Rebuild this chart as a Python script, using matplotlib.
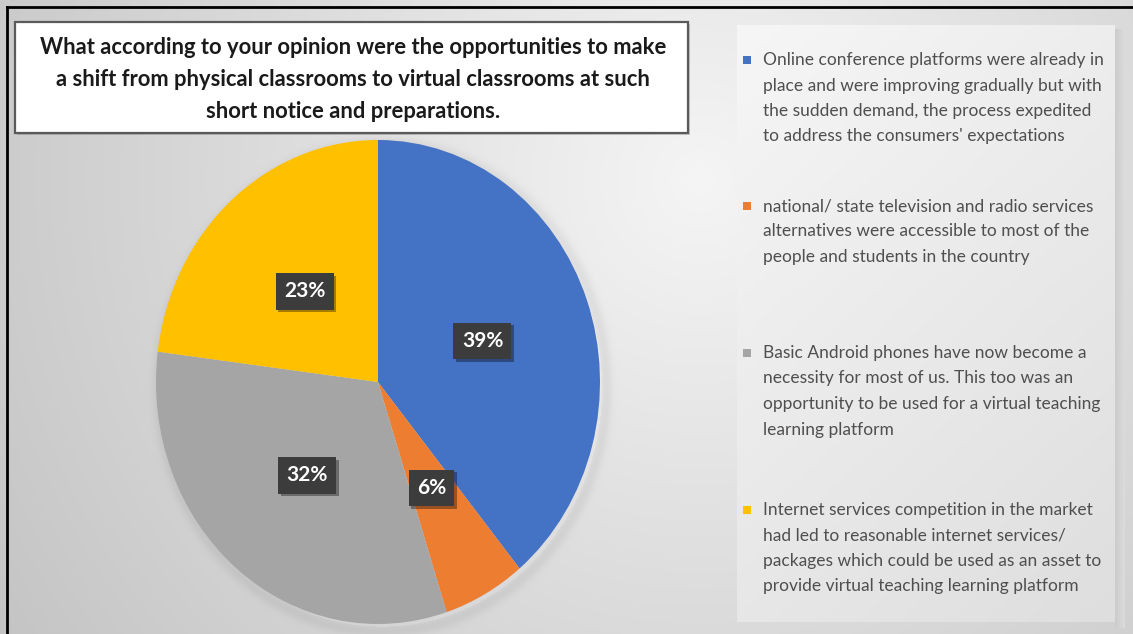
import numpy as np
import matplotlib
matplotlib.use("Agg")
import matplotlib.pyplot as plt
from matplotlib.patches import Rectangle
import matplotlib.patheffects as pe

W, H = 1133, 634

title_lines = [
    "What according to your opinion were the opportunities to make",
    "a shift from physical classrooms to virtual classrooms at such",
    "short notice and preparations.",
]
shares = [39, 6, 32, 23]
colors = ["#4472C4", "#ED7D31", "#A5A5A5", "#FFC000"]
categories = [
    "Online conference platforms were already in\nplace and were improving gradually but with\n"
    "the sudden demand, the process expedited\nto address the consumers' expectations",
    "national/ state television and radio services\nalternatives were accessible to most of the\n"
    "people and students in the country",
    "Basic Android phones have now become a\nnecessity for most of us. This too was an\n"
    "opportunity to be used for a virtual teaching\nlearning platform",
    "Internet services competition in the market\nhad led to reasonable internet services/\n"
    "packages which could be used as an asset to\nprovide virtual teaching learning platform",
]
legend_top = [60, 206, 353, 510]   # first line of each legend entry (px from top)

plt.rcParams['font.family'] = ['Lato', 'DejaVu Sans']


def fx(x):
    return x / W


def fy(y):
    return 1 - y / H


fig = plt.figure(figsize=(W / 100, H / 100), dpi=100)

# slide background: soft radial grey gradient with a faint shadow under the pie
yy, xx = np.mgrid[0:H, 0:W]
d = np.hypot(xx - 700, yy - 180)
bg = 0.96 - 0.16 * np.clip(d / 700, 0, 1.25)
rr = np.hypot((xx - 382) / 224, (yy - 387) / 244)
bg -= 0.05 * np.exp(-((rr - 1.0) * 35) ** 2) * (rr > 0.98)
bg = np.clip(bg, 0, 1)
bax = fig.add_axes([0, 0, 1, 1])
bax.imshow(np.dstack([bg] * 3), extent=(0, W, H, 0), aspect='auto', interpolation='bilinear')
bax.set_xlim(0, W)
bax.set_ylim(H, 0)
bax.axis('off')

# page frame on the left and top
bax.plot([7, 7], [7, H], color='black', lw=2)
bax.plot([7, W], [7, 7], color='black', lw=2)

# legend panel with its own light gradient and a shaded right edge
px0, py0, px1, py1 = 737, 25, 1115, 622
gy, gx = np.mgrid[0:py1 - py0, 0:px1 - px0]
pg = 0.965 - 0.035 * (gx / (px1 - px0)) - 0.06 * (gy / (py1 - py0))
bax.imshow(np.dstack([pg] * 3), extent=(px0, px1, py1, py0), aspect='auto')
sh = np.linspace(0.80, 0.86, 10)[None, :].repeat(py1 - py0 + 6, axis=0)
bax.imshow(np.dstack([sh] * 3), extent=(px1, px1 + 10, py1 + 6, py0 + 4), aspect='auto')
bax.set_xlim(0, W)
bax.set_ylim(H, 0)

# pie (slide is stretched vertically, so the pie is an ellipse)
cx, cy, ra, rb = 378, 382, 222, 242
pax = fig.add_axes([fx(cx - ra), fy(cy + rb), 2 * ra / W, 2 * rb / H])
wedges, texts, autotexts = pax.pie(
    shares, colors=colors, startangle=90, counterclock=False,
    autopct='%d%%', pctdistance=0.5,
    wedgeprops=dict(linewidth=0),
    textprops=dict(color='white', fontsize=15, fontweight='bold'))
pax.set_aspect('auto')
pax.set_xlim(-1, 1)
pax.set_ylim(-1, 1)
pax.axis('off')
for t in autotexts:
    t.set_bbox(dict(boxstyle='square,pad=0.4', fc='#3c3c3c', ec='none'))
    t.get_bbox_patch().set_path_effects(
        [pe.SimplePatchShadow(offset=(2, -2), shadow_rgbFace='black', alpha=0.35), pe.Normal()])

# title box
tax = fig.add_axes([0, 0, 1, 1])
tax.set_xlim(0, W)
tax.set_ylim(H, 0)
tax.axis('off')
tax.add_patch(Rectangle((15, 22), 673, 111, fc='white', ec='#5a5a5a', lw=1.6,
                        path_effects=[pe.SimplePatchShadow(offset=(1.5, -1.5), alpha=0.25), pe.Normal()]))
for i, line in enumerate(title_lines):
    tax.text(353, 54 + i * 32, line, ha='center', va='baseline',
             fontsize=15.8, fontweight='bold', color='#1a1a1a')

# legend entries
for i, (lab, col) in enumerate(zip(categories, colors)):
    y0 = legend_top[i]
    tax.add_patch(Rectangle((743, y0 - 4), 8, 8, fc=col, ec='none'))
    for j, line in enumerate(lab.split('\n')):
        tax.text(763, y0 + 5 + j * 25.5, line, ha='left', va='baseline',
                 fontsize=12.5, color='#4f4f4f')

fig.savefig('out.png', dpi=100)
